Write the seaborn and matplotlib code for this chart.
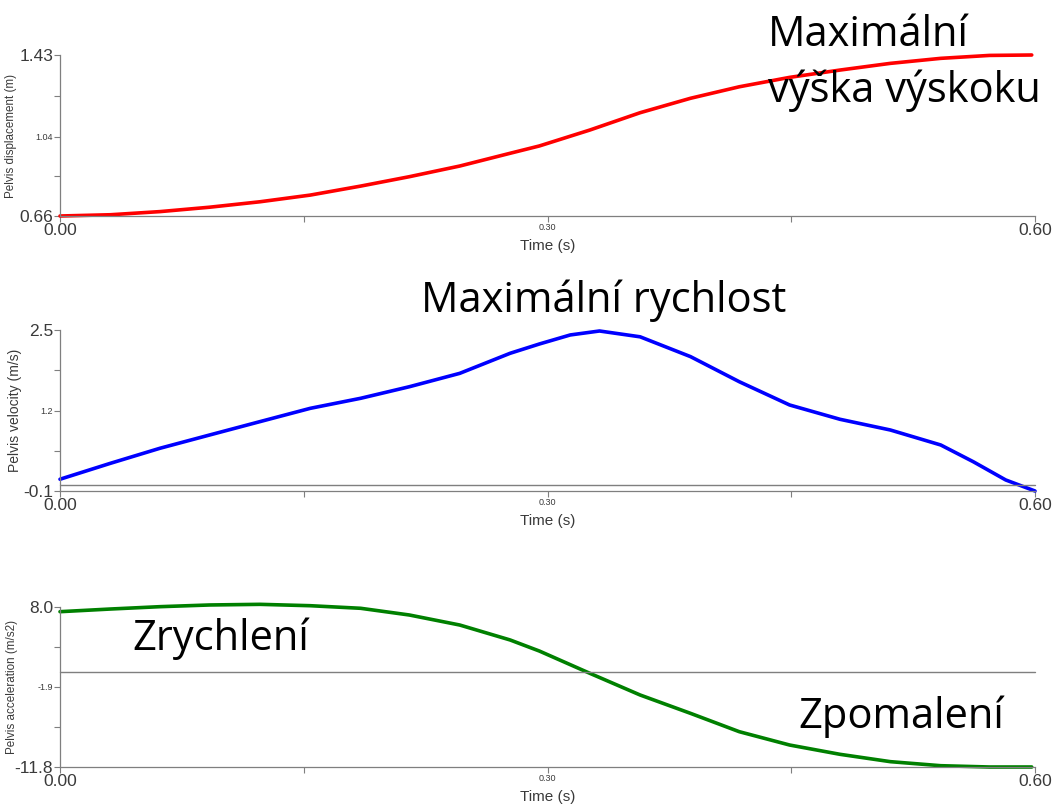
import numpy as np
import pandas as pd
import seaborn as sns
from matplotlib import pyplot as plt

# values
time_disp = [0.0, 0.031, 0.0615, 0.092, 0.123, 0.154, 0.185, 0.215, 0.246, 0.277, 0.295,
             0.326, 0.357, 0.388, 0.418, 0.449, 0.48, 0.511, 0.542, 0.572, 0.598]
displacement = [0.66, 0.666, 0.681, 0.702, 0.728, 0.76, 0.803, 0.848, 0.899, 0.96, 0.995,
                1.071, 1.154, 1.223, 1.278, 1.323, 1.358, 1.39, 1.414, 1.428, 1.43]

time_vel = [0.0, 0.031, 0.0615, 0.092, 0.123, 0.154, 0.185, 0.215, 0.246, 0.277, 0.295,
            0.314, 0.332, 0.357, 0.388, 0.418, 0.449, 0.48, 0.511, 0.542, 0.562, 0.582, 0.60]
velocity = [0.09, 0.347, 0.59, 0.804, 1.02, 1.235, 1.397, 1.584, 1.80, 2.124, 2.274,
            2.42, 2.484, 2.39, 2.07, 1.665, 1.289, 1.058, 0.885, 0.643, 0.373, 0.078, -0.10]

time_acc = [0.0, 0.031, 0.0615, 0.092, 0.123, 0.154, 0.185, 0.215, 0.246, 0.277, 0.295,
            0.326, 0.357, 0.388, 0.418, 0.449, 0.48, 0.511, 0.542, 0.572, 0.598]
acceleration = [7.42, 7.75, 8.04, 8.25, 8.33, 8.16, 7.84, 7.01, 5.77, 3.92, 2.55,
                -0.2, -2.89, -5.16, -7.43, -9.08, -10.23, -11.14, -11.64, -11.8, -11.8]

panels = [
    (time_disp, displacement, 'red', 'Pelvis displacement (m)', 8.4, [0.66, 1.04, 1.43], ['0.66', '1.04', '1.43'], False),
    (time_vel, velocity, 'blue', 'Pelvis velocity (m/s)', 10, [-0.1, 1.2, 2.5], ['-0.1', '1.2', '2.5'], True),
    (time_acc, acceleration, 'green', 'Pelvis acceleration (m/s2)', 8.4, [-11.8, -1.9, 8.0], ['-11.8', '-1.9', '8.0'], True),
]

sns.set_style('white')
plt.rcParams['font.family'] = ['Liberation Sans', 'DejaVu Sans']

fig = plt.figure(figsize=(10.55, 8.10), dpi=100)
tops = [55, 330, 607]
bottoms = [216, 491, 767]
ylab_x = [17, 22, 18]
grey = '#7f7f7f'
tick_col = '#3a3a3a'

for (t, v, col, ylab, ylab_fs, yt, ytl, zero), top, bot, lx in zip(panels, tops, bottoms, ylab_x):
    ax = fig.add_axes([60 / 1055, 1 - bot / 810, 975 / 1055, (bot - top) / 810])
    df = pd.DataFrame({'t': t, 'v': v})
    sns.lineplot(data=df, x='t', y='v', color=col, linewidth=2.6, ax=ax)
    if zero:
        ax.axhline(0, color=grey, linewidth=1)
    ax.set_xlim(0, 0.6)
    ax.set_ylim(yt[0], yt[-1])
    ax.set_xticks([0, 0.15, 0.3, 0.45, 0.6])
    ax.set_xticklabels(['0.00', '', '0.30', '', '0.60'])
    ax.set_yticks([yt[0], (yt[0] + yt[1]) / 2, yt[1], (yt[1] + yt[2]) / 2, yt[2]])
    ax.set_yticklabels([ytl[0], '', ytl[1], '', ytl[2]])
    for i, lab in enumerate(ax.get_xticklabels()):
        lab.set_fontsize(12.5 if i in (0, 4) else 6.5)
        lab.set_color(tick_col)
    for i, lab in enumerate(ax.get_yticklabels()):
        lab.set_fontsize(12.5 if i in (0, 4) else 6.5)
        lab.set_color(tick_col)
    ax.tick_params(axis='both', direction='out', length=4, width=0.8, color=grey, pad=1, bottom=True, left=True)
    ax.set_xlabel('Time (s)', fontsize=11, color=tick_col, labelpad=1)
    ax.set_ylabel(ylab, fontsize=ylab_fs, color=tick_col)
    ax.yaxis.set_label_coords(lx / 1055, 0.5, transform=fig.transFigure)
    ax.yaxis.label.set_transform(fig.transFigure)
    ax.yaxis.label.set_position((lx / 1055, 1 - (top + bot) / 2 / 810))
    sns.despine(ax=ax)
    for s in ('left', 'bottom'):
        ax.spines[s].set_color(grey)
        ax.spines[s].set_linewidth(0.9)
    for line in ax.lines:
        line.set_clip_on(False)

big = dict(fontsize=30, family=['Open Sans', 'DejaVu Sans'], color='black', va='baseline', ha='left')
fig.text(768 / 1055, 1 - 46 / 810, 'Maximální', **big)
fig.text(768 / 1055, 1 - 102 / 810, 'výška výskoku', **big)
fig.text(421 / 1055, 1 - 312 / 810, 'Maximální rychlost', **big)
fig.text(132 / 1055, 1 - 650 / 810, 'Zrychlení', **big)
fig.text(798 / 1055, 1 - 728 / 810, 'Zpomalení', **big)

plt.savefig('out.png', dpi=100)
